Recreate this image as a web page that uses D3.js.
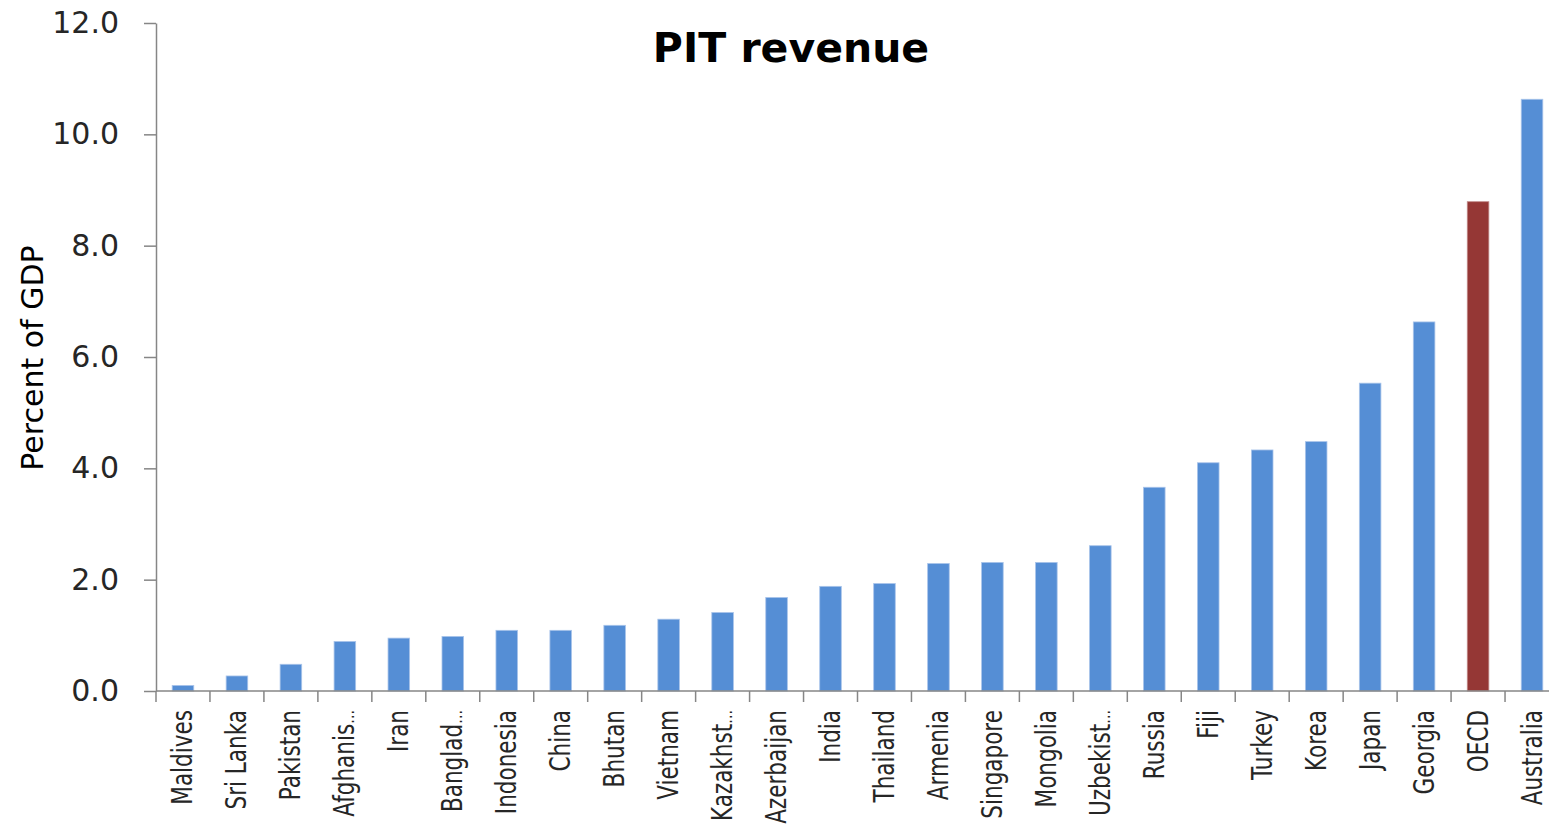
<!DOCTYPE html>
<html>
<head>
<meta charset="utf-8">
<script src="https://cdn.jsdelivr.net/npm/d3@7"></script>
<style>
  body { margin: 0; background: #fff; }
  svg { display: block; }
</style>
</head>
<body>
<div id="chart"></div>
<script>
"use strict";

// PIT revenue, percent of GDP
var countries = ["Maldives", "Sri Lanka", "Pakistan", "Afghanis\u2026", "Iran", "Banglad\u2026",
    "Indonesia", "China", "Bhutan", "Vietnam", "Kazakhst\u2026", "Azerbaijan", "India",
    "Thailand", "Armenia", "Singapore", "Mongolia", "Uzbekist\u2026", "Russia", "Fiji",
    "Turkey", "Korea", "Japan", "Georgia", "OECD", "Australia"];
var pitRevenue = [0.10, 0.27, 0.48, 0.89, 0.95, 0.98,
    1.09, 1.09, 1.18, 1.29, 1.41, 1.68, 1.88,
    1.93, 2.29, 2.31, 2.31, 2.61, 3.66, 4.10,
    4.33, 4.48, 5.53, 6.63, 8.79, 10.63];
var highlight = ["OECD"];
var yTicks = [0, 2, 4, 6, 8, 10, 12];

(function () {
    var width = 1549, height = 826;
    var plotLeft = 156, plotRight = 1559, plotTop = 23, plotBottom = 691;

    var svg = d3.select("#chart")
        .append("svg")
        .attr("width", width)
        .attr("height", height);

    var x = d3.scaleBand()
        .domain(countries)
        .range([plotLeft, plotRight])
        .paddingInner(0.6)
        .paddingOuter(0.3);

    var y = d3.scaleLinear()
        .domain([0, 12])
        .range([plotBottom, plotTop]);

    // bars
    svg.selectAll("rect.bar")
        .data(countries)
        .enter()
        .append("rect")
        .attr("class", "bar")
        .attr("x", function (d) { return x(d); })
        .attr("width", x.bandwidth())
        .attr("y", function (d, i) { return y(pitRevenue[i]); })
        .attr("height", function (d, i) { return y(0) - y(pitRevenue[i]); })
        .style("fill", function (d) { return highlight.indexOf(d) >= 0 ? "#953735" : "#558ed5"; })
        .style("stroke", function (d) { return highlight.indexOf(d) >= 0 ? "#c08a89" : "#a9c4ea"; })
        .style("stroke-width", 0.8);

    // y axis
    var yAxis = svg.append("g")
        .attr("transform", "translate(" + plotLeft + ",0)")
        .call(d3.axisLeft(y)
            .tickValues(yTicks)
            .tickFormat(d3.format(".1f"))
            .tickSize(12)
            .tickSizeOuter(0)
            .tickPadding(25));
    yAxis.select(".domain").attr("stroke", "#868686").attr("stroke-width", 1.5);
    yAxis.selectAll(".tick line").attr("stroke", "#868686").attr("stroke-width", 1.5);
    yAxis.selectAll(".tick text")
        .attr("fill", "#262626")
        .style("font-family", "'DejaVu Sans', Verdana, sans-serif")
        .style("font-size", "30px");

    // x axis line and category boundary ticks
    var step = x.step();
    var boundaries = countries.map(function (d) {
        return x(d) + x.bandwidth() / 2 - step / 2;
    });
    svg.append("line")
        .attr("x1", plotLeft).attr("x2", plotRight)
        .attr("y1", y(0)).attr("y2", y(0))
        .attr("stroke", "#868686").attr("stroke-width", 1.5);
    svg.selectAll("line.xtick")
        .data(boundaries)
        .enter()
        .append("line")
        .attr("class", "xtick")
        .attr("x1", function (d) { return d; })
        .attr("x2", function (d) { return d; })
        .attr("y1", y(0))
        .attr("y2", y(0) + 11)
        .attr("stroke", "#868686").attr("stroke-width", 1.5);

    // category labels, rotated; a trailing ellipsis is drawn smaller
    var labels = svg.selectAll("text.xlabel")
        .data(countries)
        .enter()
        .append("text")
        .attr("class", "xlabel")
        .attr("transform", function (d) {
            var cx = x(d) + x.bandwidth() / 2 + 9.5;
            return "translate(" + cx + "," + (y(0) + 19) + ") rotate(-90) scale(0.77,1)";
        })
        .attr("text-anchor", "end")
        .attr("fill", "#262626")
        .style("font-family", "'DejaVu Sans', sans-serif")
        .style("font-size", "28px");
    labels.each(function (d) {
        var t = d3.select(this);
        if (d.slice(-1) === "\u2026") {
            t.append("tspan").text(d.slice(0, -1));
            t.append("tspan").style("font-size", "18px").text("\u2026");
        } else {
            t.text(d);
        }
    });

    // y axis title
    svg.append("text")
        .attr("transform", "translate(43,358) rotate(-90)")
        .attr("text-anchor", "middle")
        .attr("fill", "#000")
        .style("font-family", "'DejaVu Sans', sans-serif")
        .style("font-size", "30px")
        .text("Percent of GDP");

    // chart title
    svg.append("text")
        .attr("x", 791)
        .attr("y", 62)
        .attr("text-anchor", "middle")
        .attr("fill", "#000")
        .style("font-family", "'DejaVu Sans', sans-serif")
        .style("font-weight", "bold")
        .style("font-size", "41px")
        .text("PIT revenue");
})();
</script>
</body>
</html>
